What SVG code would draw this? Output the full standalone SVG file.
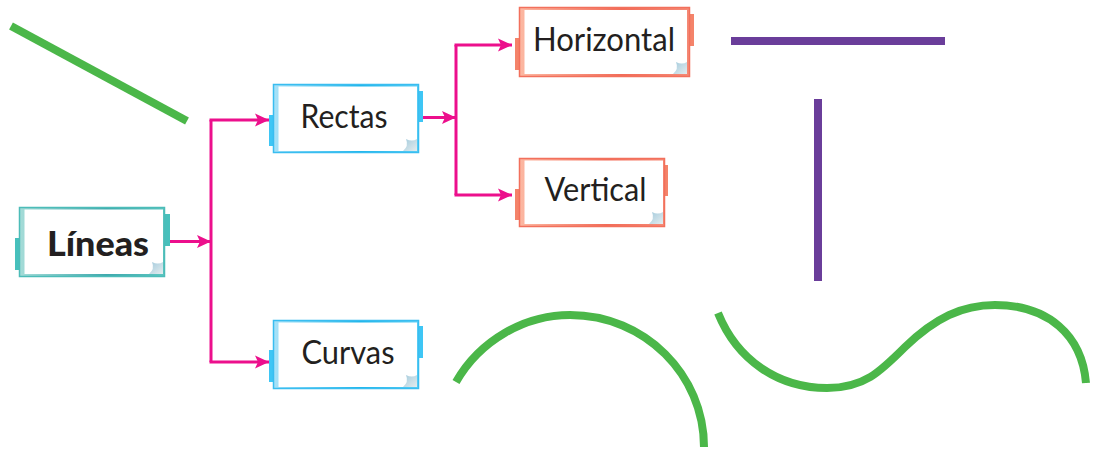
<svg xmlns="http://www.w3.org/2000/svg" width="1093" height="449" viewBox="0 0 1093 449">
<style>
.lbl{font-family:"Lato","Open Sans","Liberation Sans",sans-serif;font-size:33px;fill:#231f20;text-anchor:middle}
.bold{font-weight:900;font-size:35px}
.in{fill:#fff}
.teal{stroke:#4cbcb8;fill:url(#gt)}
.blue{stroke:#39bdf0;fill:url(#gb)}
.red{stroke:#f2705c;fill:url(#gr)}
.o{stroke-width:1.5}
.tt{fill:#47c0bc}.tb{fill:#3ec6f5}.tr{fill:#f4836a}
.curl{fill:url(#gc)}
.c{fill:none;stroke:#ec0f8c;stroke-width:3}
.g{fill:none;stroke:#4bb749;stroke-width:8}
.p{fill:none;stroke:#6a3d9a;stroke-width:8}
</style>
<defs>
<linearGradient id="gt" x1="0" x2="1" y1="0" y2="0"><stop offset="0" stop-color="#a5dcd8"/><stop offset=".6" stop-color="#3fa9ad"/><stop offset="1" stop-color="#5cc5c0"/></linearGradient>
<linearGradient id="gb" x1="0" x2="1" y1="0" y2="0"><stop offset="0" stop-color="#a8e2f8"/><stop offset=".6" stop-color="#1cb5ea"/><stop offset="1" stop-color="#5fcff5"/></linearGradient>
<linearGradient id="gr" x1="0" x2="1" y1="0" y2="0"><stop offset="0" stop-color="#fcb8a2"/><stop offset=".6" stop-color="#f26c58"/><stop offset="1" stop-color="#f58a76"/></linearGradient>
<linearGradient id="gc" x1="1" x2="0" y1="1" y2="0"><stop offset="0" stop-color="#e4ecee"/><stop offset="1" stop-color="#a3cbdd"/></linearGradient>
<marker id="a" markerUnits="userSpaceOnUse" markerWidth="15" markerHeight="15" refX="14" refY="7.500" orient="auto"><path d="M0 1 L14 7.500 L0 14 L3 7.500Z" fill="#ec0f8c"/></marker>
</defs>
<g id="connectors">
<path class="c" d="M170 241.500H211" marker-end="url(#a)"/>
<path class="c" d="M211 120V362"/>
<path class="c" d="M209.500 120H269" marker-end="url(#a)"/>
<path class="c" d="M209.500 362H269" marker-end="url(#a)"/>
<path class="c" d="M423 117.500H456" marker-end="url(#a)"/>
<path class="c" d="M456 45V195"/>
<path class="c" d="M454.500 45H512" marker-end="url(#a)"/>
<path class="c" d="M454.500 195H512" marker-end="url(#a)"/>
</g>
<g id="node-lineas">
<rect class="tt" x="15" y="238" width="5" height="32"/><rect class="tt" x="164" y="214" width="6" height="32"/>
<rect class="teal o" x="19.500" y="207.500" width="145" height="69"/>
<rect class="in" x="24.500" y="209.500" width="138.500" height="64.500"/>
<path class="curl" d="M163 262V274H149Q155 269 152 262Q158 265 163 262Z"/>
<text class="lbl bold" x="98" y="256" textLength="102" lengthAdjust="spacingAndGlyphs">Líneas</text>
</g>
<g id="node-rectas">
<rect class="tb" x="269" y="115" width="5" height="31"/><rect class="tb" x="418" y="91" width="5" height="31"/>
<rect class="blue o" x="273.500" y="84.500" width="145" height="68"/>
<rect class="in" x="278.500" y="86.500" width="138.500" height="64.500"/>
<path class="curl" d="M417 139V151H403Q409 146 406 139Q412 142 417 139Z"/>
<text class="lbl" x="344" y="128" textLength="87" lengthAdjust="spacingAndGlyphs">Rectas</text>
</g>
<g id="node-curvas">
<rect class="tb" x="269" y="350" width="5" height="32"/><rect class="tb" x="418" y="326" width="5" height="32"/>
<rect class="blue o" x="273.500" y="320.500" width="145" height="68"/>
<rect class="in" x="278.500" y="322.500" width="138.500" height="64.500"/>
<path class="curl" d="M417 375V387H403Q409 382 406 375Q412 378 417 375Z"/>
<text class="lbl" x="348" y="364" textLength="93" lengthAdjust="spacingAndGlyphs">Curvas</text>
</g>
<g id="node-horizontal">
<rect class="tr" x="515" y="38" width="5" height="32"/><rect class="tr" x="689" y="14" width="5" height="32"/>
<rect class="red o" x="519.500" y="7.500" width="170" height="69"/>
<rect class="in" x="524.500" y="10" width="162.500" height="64"/>
<path class="curl" d="M687 62V74H673Q679 69 676 62Q682 65 687 62Z"/>
<text class="lbl" x="604" y="51" textLength="142" lengthAdjust="spacingAndGlyphs">Horizontal</text>
</g>
<g id="node-vertical">
<rect class="tr" x="515" y="189" width="5" height="31"/><rect class="tr" x="663" y="165" width="5" height="31"/>
<rect class="red o" x="519.500" y="158.500" width="145" height="68"/>
<rect class="in" x="524.500" y="160.500" width="138.500" height="63.500"/>
<path class="curl" d="M663 212V224H649Q655 219 652 212Q658 215 663 212Z"/>
<text class="lbl" x="595.500" y="201" textLength="102" lengthAdjust="spacingAndGlyphs">Vertical</text>
</g>
<path class="g" d="M11 26L187 121"/>
<path class="p" d="M731 41H945"/>
<path class="p" d="M818 99V281"/>
<path class="g" d="M456 382C480 340 525 315 570 315C645 315 704 375 704 447"/>
<path class="g" d="M718 313C737 360 778 388 827 388C864 388 880 372 905 347C935 318 962 305 995 305C1048 305 1082 335 1086 383"/>
</svg>
